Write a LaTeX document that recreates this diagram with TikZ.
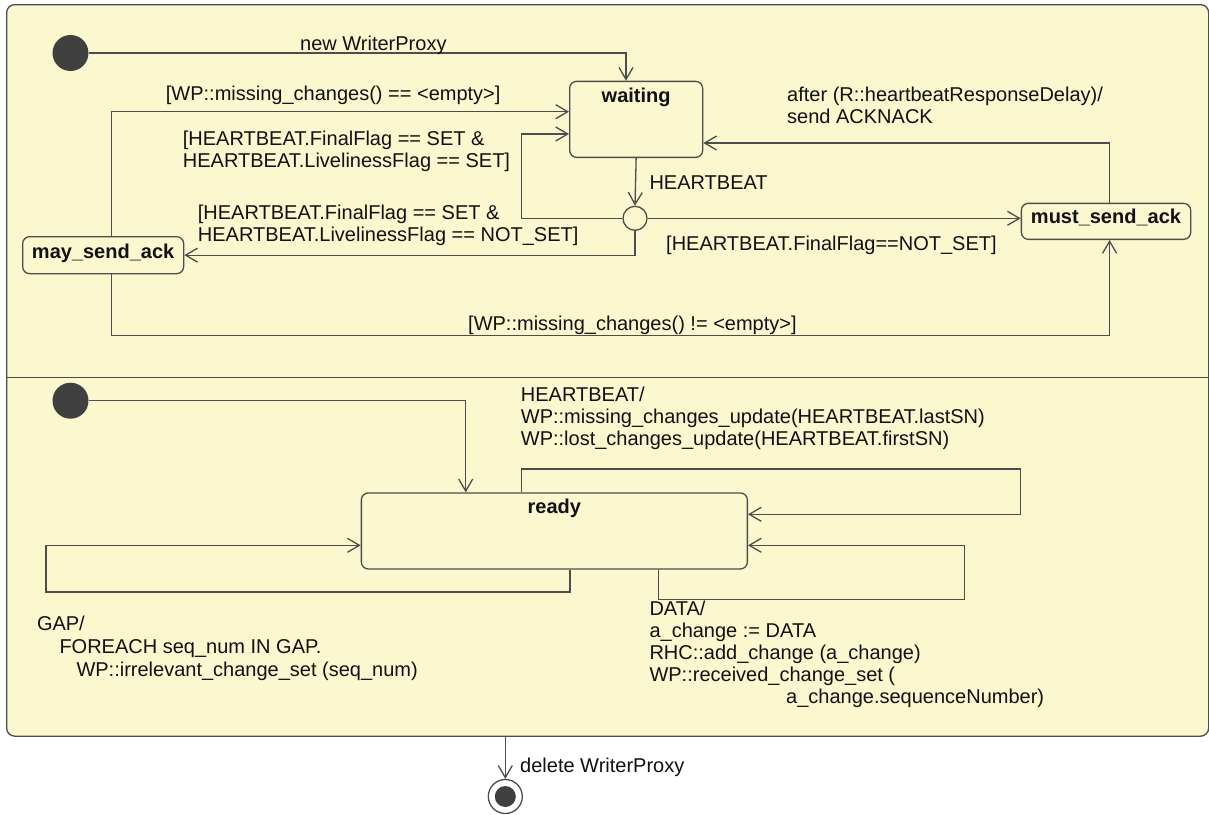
\documentclass[tikz,border=0pt]{standalone}
\usepackage{fontspec}
\setmainfont{Liberation Sans}
\usetikzlibrary{arrows.meta,calc}
\definecolor{bg}{HTML}{FBF7CE}
\definecolor{ln}{HTML}{4D4D4D}
\definecolor{dot}{HTML}{404040}
\definecolor{txt}{HTML}{111111}
\newcommand\mylines[1]{\begin{tabular}[t]{@{}l@{}}#1\end{tabular}}
\begin{document}
\begin{tikzpicture}[x=1pt,y=-1pt,
  lbl/.style={anchor=base west, inner sep=0pt, text=txt, font=\fontsize{20}{22}\selectfont},
  statebox/.style={draw=ln, line width=1.3pt, fill=bg, rounded corners=7pt, inner xsep=0pt, inner ysep=0pt, text=txt, font=\fontsize{20}{22}\selectfont\bfseries, anchor=north west},
  tr/.style={draw=ln, line width=1.3pt, -{Straight Barb[length=12pt,width=14pt]}},
  initstate/.style={circle, fill=dot, minimum size=36pt, inner sep=0pt},
  junction/.style={circle, draw=ln, line width=1.3pt, fill=bg, minimum size=24pt, inner sep=0pt},
  finalstate/.style={circle, draw=ln, line width=1.3pt, fill=white, minimum size=34pt, inner sep=0pt,
    path picture={\fill[dot] (path picture bounding box.center) circle (10.5pt);}},
]
\useasboundingbox (0,0) rectangle (1209,814);

% outer composite state
\node[draw=ln, line width=1.3pt, fill=bg, rounded corners=8pt, minimum width=1202pt, minimum height=731.5pt, inner sep=0pt, anchor=north west] (outer) at (6,4) {};
\draw[ln, line width=1.3pt] (6,377.3) -- (1208,377.3);

% ---------- upper region ----------
\node[initstate] (i1) at (70.5,53) {};
\node[statebox, minimum width=133pt, text height=21pt, text depth=55pt] (waiting) at (569,80.7) {waiting};
\node[junction] (j) at (635,218.3) {};
\node[statebox, minimum width=169.3pt, text height=20.5pt, text depth=15.5pt] (must) at (1020.7,202.7) {must\_send\_ack};
\node[statebox, minimum width=161pt, text height=21.7pt, text depth=15.3pt] (may) at (22,236) {may\_send\_ack};

\draw[tr] (i1.east) -| ($(waiting.north west)+(57,0)$);
\node[lbl] (lnew) at (300,50.7) {new WriterProxy};

\draw[tr] (waiting.south) -- (j.north);
\node[lbl] (lhb) at (649.3,189) {HEARTBEAT};

\draw[tr] (j.east) -- (j.east -| must.west);
\node[lbl] (lnotset) at (666,250) {[HEARTBEAT.FinalFlag==NOT\_SET]};

\draw[tr] ($(must.north)+(3.6,0)$) |- ($(waiting.south east)+(0,-15)$);
\node[lbl] (lafter) at (787,101.7) {\mylines{after (R::heartbeatResponseDelay)/\\send ACKNACK}};

\draw[tr] ($(may.north)+(8.2,0)$) |- ($(waiting.north west)+(0,31)$);
\node[lbl] (lempty) at (165.7,100) {[WP::missing\_changes() == <empty>]};

\draw[tr] (j.west) -- ++(-101,0) |- ($(waiting.north west)+(0,53.3)$);
\node[lbl] (lset) at (182.7,145) {\mylines{[HEARTBEAT.FinalFlag == SET \&\\HEARTBEAT.LivelinessFlag == SET]}};

\draw[tr] (j.south) |- (may.east);
\node[lbl] (lnset) at (197.7,219.5) {\mylines{[HEARTBEAT.FinalFlag == SET \&\\HEARTBEAT.LivelinessFlag == NOT\_SET]}};

\draw[tr] ($(may.south)+(8.2,0)$) -- ++(0,61.3) -| ($(must.south)+(3.6,0)$);
\node[lbl] (lnempty) at (468,330) {[WP::missing\_changes() != <empty>]};

% ---------- lower region ----------
\node[initstate] (i2) at (70.5,400.7) {};
\node[statebox, minimum width=386pt, text height=21pt, text depth=55pt] (ready) at (360.7,492.3) {ready};

\draw[tr] (i2.east) -| ($(ready.north west)+(105,0)$);

\draw[tr] ($(ready.north west)+(161,0)$) -- ++(0,-23.3) -- ++(499,0) |- ($(ready.north east)+(0,22)$);
\node[lbl] (lhbupd) at (520.7,401.7) {\mylines{HEARTBEAT/\\WP::missing\_changes\_update(HEARTBEAT.lastSN)\\WP::lost\_changes\_update(HEARTBEAT.firstSN)}};

\draw[tr] ($(ready.south west)+(297.6,0)$) -- ++(0,30) -- ++(306,0) |- ($(ready.north east)+(0,53)$);
\node[lbl] (ldata) at (649.3,615) {\mylines{DATA/\\a\_change := DATA\\RHC::add\_change (a\_change)\\WP::received\_change\_set (\\\hspace*{136.7pt}a\_change.sequenceNumber)}};

\draw[tr] ($(ready.south west)+(209.3,0)$) -- ++(0,22.4) -- ++(-524,0) |- ($(ready.north west)+(0,53)$);
\node[lbl, font=\fontsize{20}{23.3}\selectfont] (lgap) at (36.8,630) {\mylines{GAP/\\\hspace*{22.5pt}FOREACH seq\_num IN GAP.\\\hspace*{39.5pt}WP::irrelevant\_change\_set (seq\_num)}};

% ---------- final ----------
\node[finalstate] (fin) at (505.3,796.5) {};
\draw[tr] ($(outer.south west)+(499.3,0)$) -- (fin.north);
\node[lbl] (ldel) at (520,772.7) {delete WriterProxy};
\end{tikzpicture}
\end{document}
